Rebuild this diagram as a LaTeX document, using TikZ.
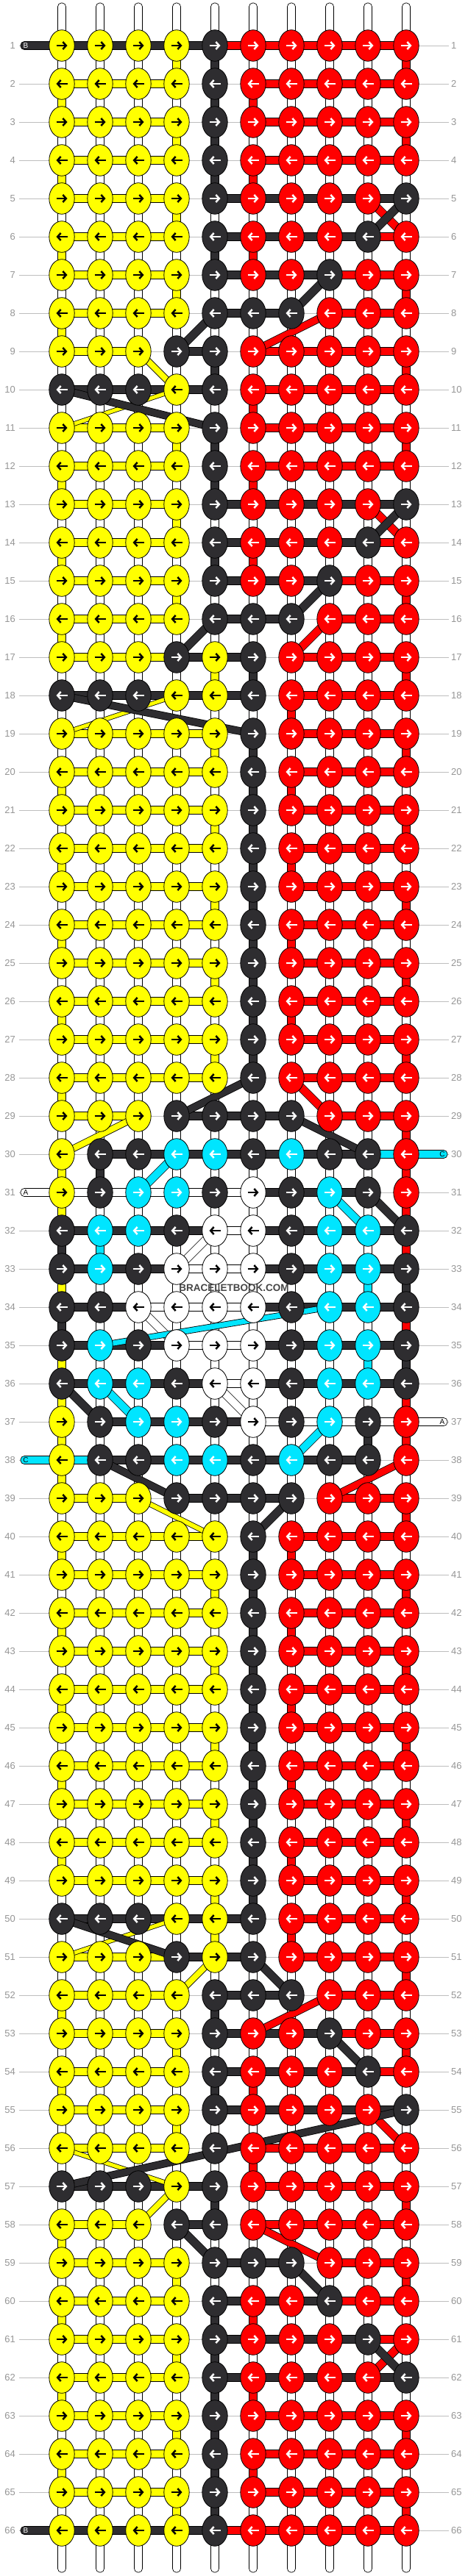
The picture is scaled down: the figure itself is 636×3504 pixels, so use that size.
\documentclass[tikz,border=0pt]{standalone}
\usepackage{fontspec}
\setmainfont{Liberation Sans}
\usetikzlibrary{arrows.meta}
\definecolor{cY}{RGB}{255,255,0}
\definecolor{cR}{RGB}{255,0,0}
\definecolor{cD}{RGB}{46,45,48}
\definecolor{cC}{RGB}{0,229,255}
\definecolor{cW}{RGB}{255,255,255}
\colorlet{aY}{black}\colorlet{aW}{black}\colorlet{aR}{white}\colorlet{aD}{white}\colorlet{aC}{white}
\definecolor{lblgray}{RGB}{150,150,150}
\definecolor{linegray}{RGB}{190,190,190}
\definecolor{wmgray}{RGB}{70,70,70}
\pgfdeclarelayer{lzero}\pgfdeclarelayer{lone}\pgfdeclarelayer{ltwo}
\pgfsetlayers{lzero,lone,ltwo,main}
\newcount\chidx
\def\forchars#1#2{\def\fcbody{#2}\chidx=0 \edef\fcstr{#1}\expandafter\fcloop\fcstr\relax}
\def\fcloop#1{\ifx\relax#1\expandafter\fcstop\else\expandafter\fcdo\fi{#1}}
\def\fcstop#1{}
\def\fcdo#1{\advance\chidx by 1 \def\ch{#1}\fcbody\fcloop}
\tikzset{
  barbox/.style={draw=black,line width=0.7pt},
  knotshape/.style={draw=black,line width=0.8pt},
  arrowst/.style={line width=2.5pt,-{Straight Barb[length=4.5pt,width=10pt]}},
  rowlbl/.style={text=lblgray,font=\fontsize{13}{13}\selectfont,inner sep=0pt},
  taglbl/.style={font=\fontsize{10}{10}\selectfont,inner sep=0pt},
}
\begin{document}
\begin{tikzpicture}[x=1pt,y=-1pt]
\useasboundingbox (0,0) rectangle (636,3504);
\begin{pgfonlayer}{lzero}
\fill[white] (0,0) rectangle (636,3504);
\end{pgfonlayer}
% top and bottom strings
\begin{pgfonlayer}{lone}
\foreach \c in {1,...,10}{
  \pgfmathsetmacro\xx{32+52*\c}
  \path[barbox,fill=white,rounded corners=5pt] (\xx-5.5,4) rectangle (\xx+5.5,70);
  \path[barbox,fill=white,rounded corners=5pt] (\xx-5.5,3430) rectangle (\xx+5.5,3499);
}
\end{pgfonlayer}
\foreach \r/\k/\h/\v in {
1/YYYYDRRRRR/DDDDRRRRR/WWWYDWWWWR,
2/YYYYDRRRRR/YYYNNRRRR/YWWWDRWWWW,
3/YYYYDRRRRR/YYYNNRRRR/WWWYDWWWWR,
4/YYYYDRRRRR/YYYNNRRRR/YWWWDRWWWW,
5/YYYYDRRRRD/YYYNDDDDD/WWWYWWWWWW,
6/YYYYDRRRDR/YYYNDDDDR/YWWWDRWWWW,
7/YYYYDRRDRR/YYYNDDDRR/WWWYWWWWWR,
8/YYYYDDDRRR/YYYNDDNRR/YWWWWWWWWW,
9/YYYDDRRRRR/YYNDNRRRR/WWWWDWWWWR,
10/DDDYDRRRRR/DDDDNRRRR/WWWWWRWWWW,
11/YYYYDRRRRR/YYYNNRRRR/WWWYDWWWWR,
12/YYYYDRRRRR/YYYNNRRRR/YWWWDRWWWW,
13/YYYYDRRRRD/YYYNDDDDD/WWWYWWWWWW,
14/YYYYDRRRDR/YYYNDDDDR/YWWWDRWWWW,
15/YYYYDRRDRR/YYYNDDDRR/WWWYWWWWWR,
16/YYYYDDDRRR/YYYNDDNRR/YWWWWWWWWW,
17/YYYDYDRRRR/YYYDDNRRR/WWWWYDWWWR,
18/DDDYYDRRRR/DDDDDNRRR/WWWWWWRWWW,
19/YYYYYDRRRR/YYYYNNRRR/WWWWYDWWWR,
20/YYYYYDRRRR/YYYYNNRRR/YWWWWDRWWW,
21/YYYYYDRRRR/YYYYNNRRR/WWWWYDWWWR,
22/YYYYYDRRRR/YYYYNNRRR/YWWWWDRWWW,
23/YYYYYDRRRR/YYYYNNRRR/WWWWYDWWWR,
24/YYYYYDRRRR/YYYYNNRRR/YWWWWDRWWW,
25/YYYYYDRRRR/YYYYNNRRR/WWWWYDWWWR,
26/YYYYYDRRRR/YYYYNNRRR/YWWWWDRWWW,
27/YYYYYDRRRR/YYYYNNRRR/WWWWYDWWWR,
28/YYYYYDRRRR/YYYYNNRRR/YWWWWWWWWW,
29/YYYDDDDRRR/YYNDDDNRR/WWWWWWWWWR,
30/YDDCCDCDDR/NDDDDDDDC/YDWWWWWWWR,
31/YDCCDWDCDR/WWWWWDDDN/YWWWWWWWWR,
32/DCCDWWDCCD/DDDDWDDDD/DCWWWWWWWR,
33/DCDWWWDCCD/DDDWWDDDD/YWWWWWWWCD,
34/DDWWWWDCCD/DDWWWDDDD/DWWWWWWWWR,
35/DCDWWWDCCD/DDDWWDDDD/YWWWWWWWCD,
36/DCCDWWDCCD/DDDDWDDDD/YWWWWWWWWR,
37/YDCCDWDCDR/NDDDDWWWW/YWWWWWWWDR,
38/YDDCCDCDDR/CDDDDDDDN/YWWWWWWWWW,
39/YYYDDDDRRR/YYNDDDNRR/WWWWWWWWWR,
40/YYYYYDRRRR/YYYYNNRRR/YWWWWDRWWW,
41/YYYYYDRRRR/YYYYNNRRR/WWWWYDWWWR,
42/YYYYYDRRRR/YYYYNNRRR/YWWWWDRWWW,
43/YYYYYDRRRR/YYYYNNRRR/WWWWYDWWWR,
44/YYYYYDRRRR/YYYYNNRRR/YWWWWDRWWW,
45/YYYYYDRRRR/YYYYNNRRR/WWWWYDWWWR,
46/YYYYYDRRRR/YYYYNNRRR/YWWWWDRWWW,
47/YYYYYDRRRR/YYYYNNRRR/WWWWYDWWWR,
48/YYYYYDRRRR/YYYYNNRRR/YWWWWDRWWW,
49/YYYYYDRRRR/YYYYNNRRR/WWWWYDWWWR,
50/DDDYYDRRRR/DDDDDNRRR/WWWWYWRWWW,
51/YYYDYDRRRR/YYYDDNRRR/WWWWWWWWWR,
52/YYYYDDDRRR/YYYNDDNRR/YWWWDWWWWW,
53/YYYYDRRDRR/YYYNDDDRR/WWWYWWWWWR,
54/YYYYDRRRDR/YYYNDDDDR/YWWWDRWWWW,
55/YYYYDRRRRD/YYYNDDDDD/WWWYWWWWWW,
56/YYYYDRRRRR/YYYNNRRRR/WWWWWRWWWW,
57/DDDYDRRRRR/DDDDNRRRR/WWWWDWWWWR,
58/YYYDDRRRRR/YYNDNRRRR/YWWWWWWWWW,
59/YYYYDDDRRR/YYYNDDNRR/WWWYWWWWWR,
60/YYYYDRRDRR/YYYNDDDRR/YWWWDRWWWW,
61/YYYYDRRRDR/YYYNDDDDR/WWWYDWWWWW,
62/YYYYDRRRRD/YYYNDDDDD/YWWWDRWWWW,
63/YYYYDRRRRR/YYYNNRRRR/WWWYDWWWWR,
64/YYYYDRRRRR/YYYNNRRRR/YWWWDRWWWW,
65/YYYYDRRRRR/YYYNNRRRR/WWWYDWWWWR,
66/YYYYDRRRRR/DDDDRRRRR/WWWWWWWWWW}{
  \pgfmathsetmacro\yy{10+52*\r}
  \pgfmathsetmacro\yn{62+52*\r}
  \pgfmathtruncatemacro\dir{ifthenelse(mod(\r,2)==1,1,-1)}
  \begin{pgfonlayer}{lzero}
    \draw[linegray,line width=0.8pt] (26,\yy) -- (610,\yy);
  \end{pgfonlayer}
  \node[rowlbl,anchor=east] (ll\r) at (21,\yy) {\r};
  \node[rowlbl,anchor=west] (rl\r) at (613,\yy) {\r};
  \begin{pgfonlayer}{lone}
    \forchars{\h}{\if\ch N\else\pgfmathsetmacro\xx{32+52*\the\chidx}\path[barbox,fill=c\ch] (\xx,\yy-5.5) rectangle (\xx+52,\yy+5.5);\fi}
    \ifnum\r<66
    \forchars{\v}{\pgfmathsetmacro\xx{32+52*\the\chidx}\path[barbox,fill=c\ch] (\xx-5.5,\yy) rectangle (\xx+5.5,\yn);}
    \fi
  \end{pgfonlayer}
  \forchars{\k}{\pgfmathsetmacro\xx{32+52*\the\chidx}\pgfmathsetmacro\xa{\xx-7.5*\dir}\pgfmathsetmacro\xb{\xx+7.5*\dir}\path[knotshape,fill=c\ch] (\xx,\yy) ellipse [x radius=17.2pt,y radius=21.3pt];\draw[arrowst,draw=a\ch] (\xa,\yy) -- (\xb,\yy);}
}
% tags
\begin{pgfonlayer}{lone}
\path[barbox,fill=cD,rounded corners=5pt] (28,56.5) rectangle (90,67.5);
\path[barbox,fill=cD,rounded corners=5pt] (28,3436.5) rectangle (90,3447.5);
\path[barbox,fill=white,rounded corners=5pt] (28,1616.5) rectangle (90,1627.5);
\path[barbox,fill=cC,rounded corners=5pt] (28,1980.5) rectangle (90,1991.5);
\path[barbox,fill=cC,rounded corners=5pt] (546,1564.5) rectangle (608,1575.5);
\path[barbox,fill=white,rounded corners=5pt] (546,1928.5) rectangle (608,1939.5);
\end{pgfonlayer}
\node[taglbl,text=white] (tagB1) at (35,62) {B};
\node[taglbl,text=white] (tagB2) at (35,3442) {B};
\node[taglbl,text=black] (tagA1) at (35,1622) {A};
\node[taglbl,text=black] (tagC1) at (35,1986) {C};
\node[taglbl,text=black] (tagC2) at (601,1570) {C};
\node[taglbl,text=black] (tagA2) at (601,1934) {A};
% diagonal strings
\begin{pgfonlayer}{ltwo}
\foreach \ca/\ra/\cb/\rb/\cl/\w in {
9/5/10/6/R/10, 10/5/9/6/D/10, 8/7/7/8/D/10, 5/8/4/9/D/10, 8/8/6/9/R/9,
3/9/4/10/Y/8, 4/10/1/11/Y/5, 1/10/5/11/D/9,
9/13/10/14/R/10, 10/13/9/14/D/10, 8/15/7/16/D/10, 5/16/4/17/D/10, 8/16/7/17/R/10,
4/18/1/19/Y/5, 1/18/6/19/D/9,
6/28/4/29/D/9, 7/28/8/29/R/10, 3/29/1/30/Y/8, 7/29/9/30/D/9,
4/30/3/31/C/10, 8/31/9/32/C/10, 9/31/10/32/D/10, 5/32/4/33/W/10,
3/34/4/35/W/10, 8/34/2/35/C/7, 1/36/2/37/D/10, 2/36/3/37/C/10, 5/36/6/37/W/10,
8/37/7/38/C/10, 2/38/4/39/D/9, 10/38/8/39/R/9, 3/39/5/40/Y/6, 7/39/6/40/D/10,
4/50/1/51/Y/5, 1/50/4/51/D/9, 5/51/4/52/Y/8, 6/51/7/52/D/10, 8/52/6/53/R/9,
8/53/9/54/D/10, 9/55/10/56/R/10, 1/56/4/57/Y/5, 10/55/1/57/D/9, 4/57/3/58/Y/8,
4/58/5/59/D/10, 6/58/8/59/R/9, 7/59/8/60/D/10, 10/61/9/62/R/10, 9/61/10/62/D/10}{
  \pgfmathsetmacro\xa{32+52*\ca}\pgfmathsetmacro\ya{10+52*\ra}
  \pgfmathsetmacro\xb{32+52*\cb}\pgfmathsetmacro\yb{10+52*\rb}
  \pgfmathsetmacro\wo{\w+1.6}
  \draw[line width=\wo pt,draw=black] (\xa,\ya) -- (\xb,\yb);
  \draw[line width=\w pt,draw=c\cl] (\xa,\ya) -- (\xb,\yb);
}
\end{pgfonlayer}
\node[text=wmgray,font=\fontsize{13.5}{13.5}\selectfont\bfseries,inner sep=0pt] (wm) at (318,1752) {BRACELETBOOK.COM};
\end{tikzpicture}
\end{document}
